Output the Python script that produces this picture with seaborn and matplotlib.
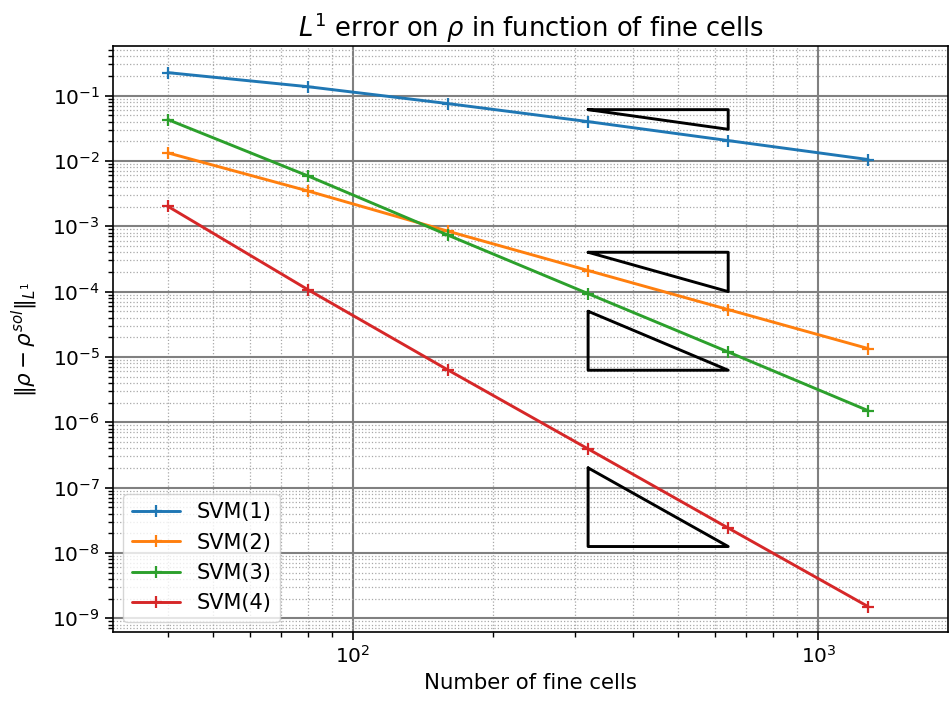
import numpy as np
import pandas as pd
import matplotlib
matplotlib.use("Agg")
import matplotlib.pyplot as plt
import seaborn as sns

# Number of fine cells for each refinement level
cells = [40, 80, 160, 320, 640, 1280]

# L1 error on rho for each scheme
err_svm1 = [0.225, 0.137, 0.0755, 0.040, 0.0205, 0.0105]
err_svm2 = [0.0133, 0.00347, 8.4e-4, 2.1e-4, 5.3e-5, 1.34e-5]
err_svm3 = [0.043, 0.0059, 7.3e-4, 9.3e-5, 1.19e-5, 1.5e-6]
err_svm4 = [2.02e-3, 1.07e-4, 6.3e-6, 3.9e-7, 2.4e-8, 1.5e-9]

schemes = ["SVM(1)", "SVM(2)", "SVM(3)", "SVM(4)"]
errors = [err_svm1, err_svm2, err_svm3, err_svm4]

# Slope triangles (order 1..4) between 320 and 640 cells
tri_x = [320, 640]
tri_order1 = [0.061, 0.0305]
tri_order2 = [4e-4, 1e-4]
tri_order3 = [5e-5, 6.25e-6]
tri_order4 = [2e-7, 1.25e-8]

df = pd.DataFrame({
    "cells": np.tile(cells, len(schemes)),
    "error": np.concatenate(errors),
    "scheme": np.repeat(schemes, len(cells)),
})

sns.set_style("ticks")
plt.rcParams["font.family"] = ["DejaVu Sans"]
plt.rcParams["mathtext.fontset"] = "dejavusans"
plt.rcParams["text.color"] = "black"
plt.rcParams["axes.labelcolor"] = "black"
plt.rcParams["xtick.color"] = "black"
plt.rcParams["ytick.color"] = "black"

fig = plt.figure(figsize=(9.5, 7.04), dpi=100)
ax = fig.add_axes([0.119, 0.102, 0.879, 0.833])

palette = sns.color_palette("tab10", 4)
for name, color in zip(schemes, palette):
    sub = df[df["scheme"] == name]
    sns.lineplot(data=sub, x="cells", y="error", ax=ax, color=color,
                 marker="+", markersize=9, markeredgewidth=1.6,
                 markeredgecolor=color, linewidth=2.1, label=name)

ax.set_xscale("log")
ax.set_yscale("log")

# Slope triangles: the hypotenuse descends with the given order
ax.plot([tri_x[0], tri_x[1], tri_x[1], tri_x[0]],
        [tri_order1[0], tri_order1[0], tri_order1[1], tri_order1[0]],
        color="black", lw=2.1)
ax.plot([tri_x[0], tri_x[1], tri_x[1], tri_x[0]],
        [tri_order2[0], tri_order2[0], tri_order2[1], tri_order2[0]],
        color="black", lw=2.1)
ax.plot([tri_x[0], tri_x[0], tri_x[1], tri_x[0]],
        [tri_order3[0], tri_order3[1], tri_order3[1], tri_order3[0]],
        color="black", lw=2.1)
ax.plot([tri_x[0], tri_x[0], tri_x[1], tri_x[0]],
        [tri_order4[0], tri_order4[1], tri_order4[1], tri_order4[0]],
        color="black", lw=2.1)

ax.set_xlim(30.5, 1900)
ax.set_ylim(6.1e-10, 0.58)

ax.yaxis.set_major_locator(matplotlib.ticker.LogLocator(base=10, numticks=20))
ax.yaxis.set_minor_locator(matplotlib.ticker.LogLocator(base=10, subs=np.arange(2, 10), numticks=20))
ax.yaxis.set_minor_formatter(matplotlib.ticker.NullFormatter())
ax.xaxis.set_minor_formatter(matplotlib.ticker.NullFormatter())

ax.grid(True, which="major", color="grey", linestyle="-", linewidth=1.5)
ax.grid(True, which="minor", color="#a8a8a8", linestyle=":", linewidth=0.9)
ax.set_axisbelow(True)

for s in ax.spines.values():
    s.set_color("black")
    s.set_linewidth(1.2)
ax.tick_params(which="major", direction="out", length=6, width=1.2, labelsize=14.5, colors="black")
ax.tick_params(which="minor", direction="out", length=3.5, width=1.0)

ax.set_title(r"$L^1$ error on $\rho$ in function of fine cells", fontsize=18.5)
ax.set_xlabel("Number of fine cells", fontsize=15.3)
ax.set_ylabel(r"$\|\rho-\rho^{sol}\|_{L^1}$", fontsize=15.5, labelpad=9)

ax.legend(loc="lower left", fontsize=15, frameon=True, handlelength=2.3)

fig.savefig("out.png", dpi=100)
